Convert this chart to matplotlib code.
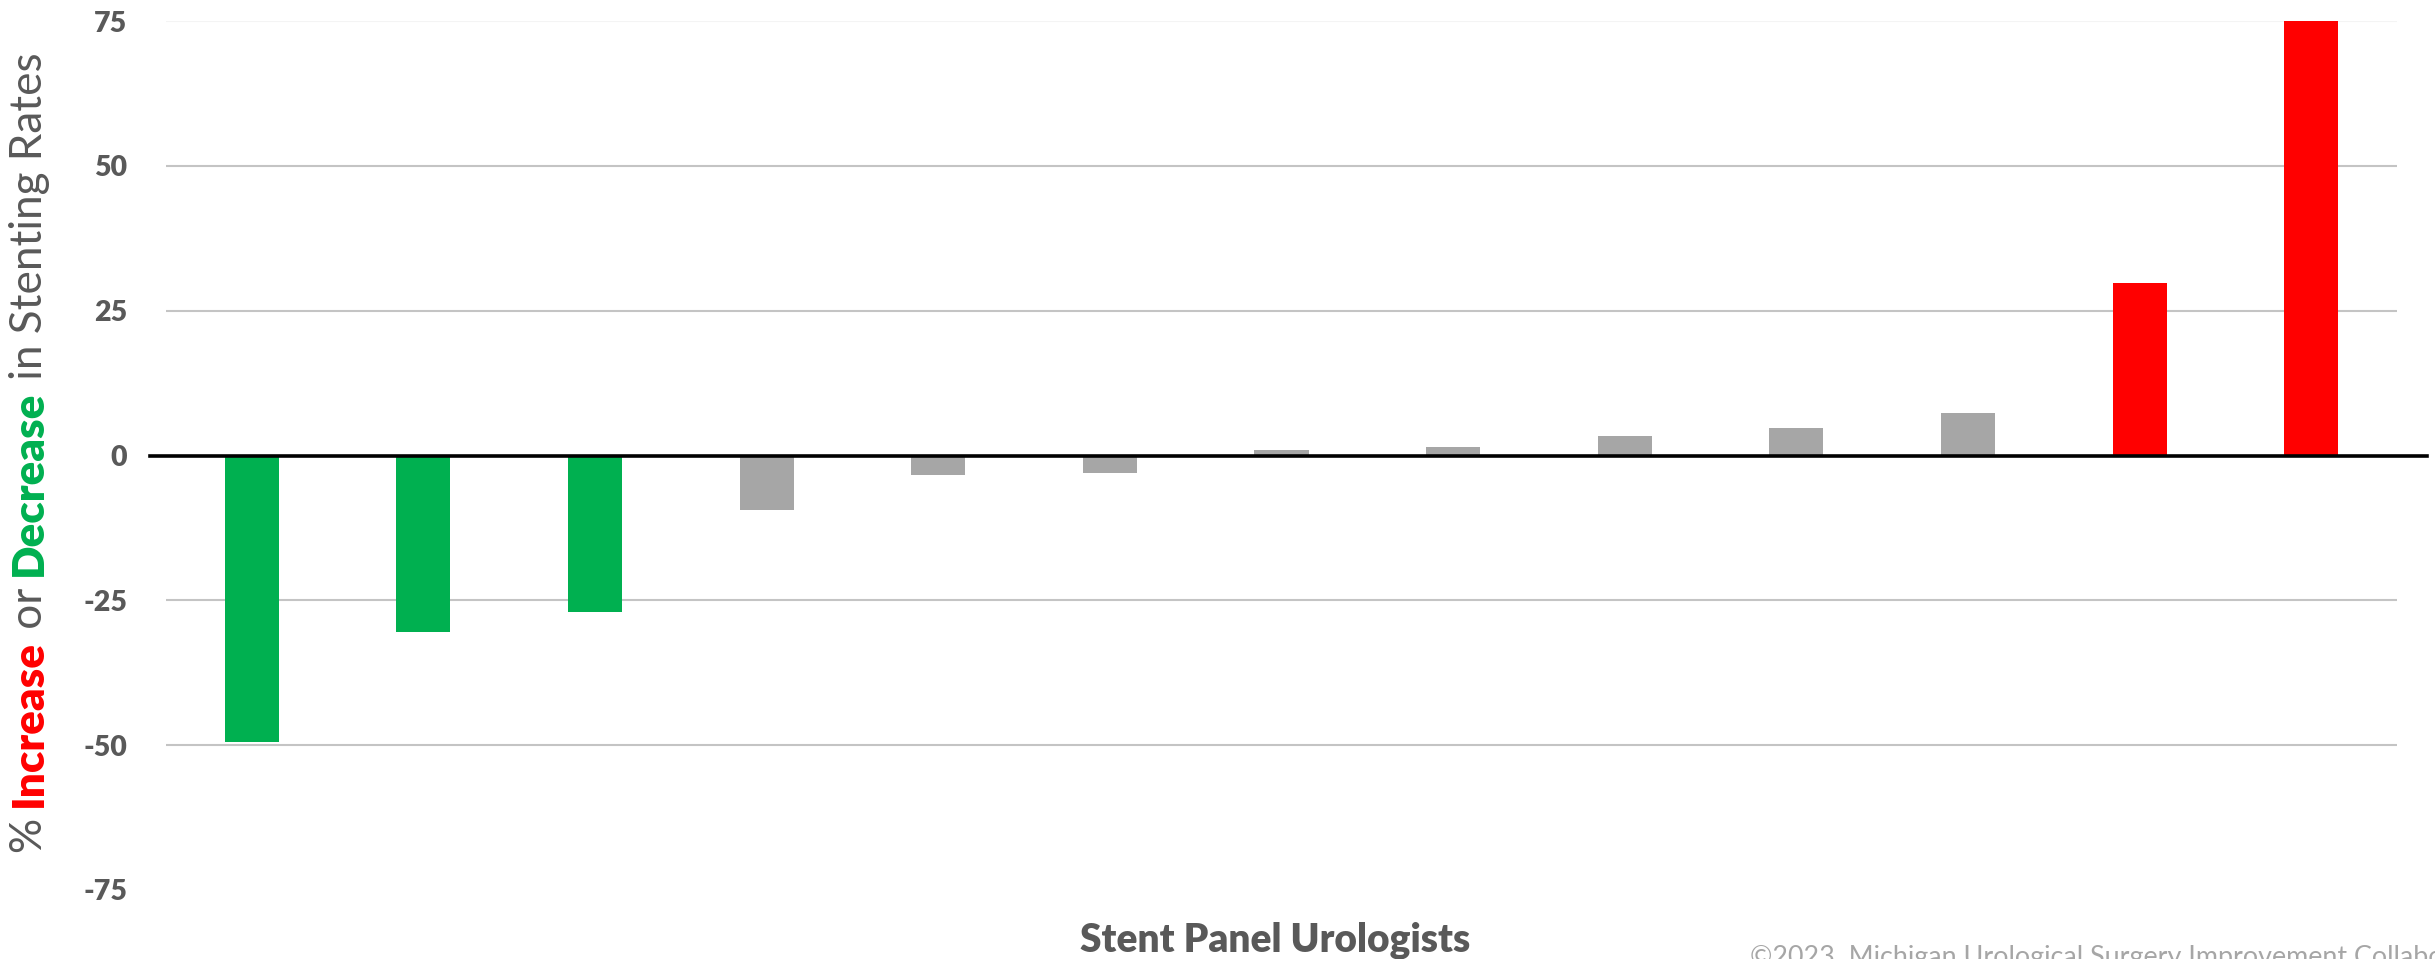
import matplotlib
matplotlib.use("Agg")
import matplotlib.pyplot as plt

# percent change in stenting rate per panel urologist, sorted
change = [-49.4, -30.4, -27.0, -9.4, -3.4, -3.0, 0.9, 1.4, 3.4, 4.7, 7.4, 29.7, 75.0]
groups = ["down", "down", "down", "flat", "flat", "flat", "flat", "flat",
          "flat", "flat", "flat", "up", "up"]
yticks = [-75, -50, -25, 0, 25, 50, 75]

RED = "#FF0000"
GREEN = "#00B050"
GREY_BAR = "#A6A6A6"
TEXT = "#595959"
group_color = {"down": GREEN, "flat": GREY_BAR, "up": RED}

plt.rcParams["font.family"] = ["Lato", "DejaVu Sans"]

W, H = 2435, 959
fig = plt.figure(figsize=(W / 100, H / 100), dpi=100)
ax = fig.add_axes([166 / W, 1 - 890 / H, (2397 - 166) / W, (890 - 21) / H])

x = list(range(len(change)))
ax.bar(x, change, width=0.315, color=[group_color[g] for g in groups], zorder=3)

ax.set_xlim(-0.5, len(change) - 0.5)
ax.set_ylim(-75, 75)
ax.set_yticks(yticks)
ax.set_yticklabels([str(t) for t in yticks], fontsize=20.5, fontweight="heavy", color=TEXT)
ax.tick_params(axis="y", length=0, pad=28)
ax.set_xticks([])
for s in ax.spines.values():
    s.set_visible(False)

for t in yticks:
    if t in (0, -75):
        continue
    c = "#F4F4F4" if t == 75 else "#C4C4C4"
    ax.axhline(t, color=c, lw=1.5, zorder=1)

# zero line runs a little past the plot area on both sides
ax.axhline(0, xmin=-0.0072, xmax=1.0135, color="black", lw=2.6, zorder=4, clip_on=False)

fig.text(1275 / W, 1 - 940 / H, "Stent Panel Urologists", fontsize=28,
         fontweight="heavy", color=TEXT, ha="center", va="center")
fig.text(1750 / W, 1 - 945 / H,
         "\u00a92023  Michigan Urological Surgery Improvement Collaborative",
         fontsize=19.4, color="#A6A6A6", ha="left", va="top")

# y-axis title with coloured keywords, built piece by piece upward
pieces = [("% ", TEXT, "normal"), ("Increase", RED, "heavy"), (" or ", TEXT, "normal"),
          ("Decrease", GREEN, "heavy"), (" in Stenting Rates", TEXT, "normal")]
fig.canvas.draw()
renderer = fig.canvas.get_renderer()
px, py = 42, H - 853
for txt, col, wt in pieces:
    t = fig.text(px / W, py / H, txt, rotation=90, rotation_mode="anchor",
                 ha="left", va="baseline", fontsize=31.7, color=col, fontweight=wt)
    bb = t.get_window_extent(renderer)
    py = bb.y1

fig.savefig("out.png", dpi=100)
